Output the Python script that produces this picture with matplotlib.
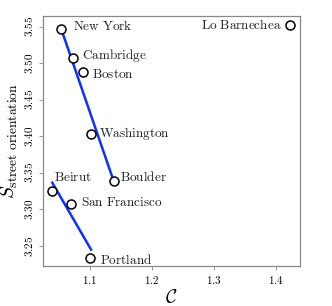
import matplotlib
matplotlib.use("Agg")
import matplotlib.pyplot as plt
from matplotlib.ticker import FuncFormatter, FixedLocator

plt.rcParams['mathtext.fontset'] = 'cm'
plt.rcParams['font.family'] = 'serif'
plt.rcParams['font.serif'] = ['DejaVu Serif']

cities = ["New York", "Cambridge", "Boston", "Washington", "Boulder",
          "Beirut", "San Francisco", "Portland", "Lo Barnechea"]
c_vals = [1.053, 1.072, 1.089, 1.101, 1.139, 1.039, 1.070, 1.1005, 1.423]
s_vals = [3.547, 3.5075, 3.488, 3.4035, 3.339, 3.325, 3.308, 3.234, 3.552]
# label offsets (points) and alignment
offsets = [(8.5, 2), (7, 2), (6, -2), (6, 0), (4, 3), (1.5, 9.5), (7, 1), (7, -1.5), (-6, 0)]
aligns = ["left"] * 8 + ["right"]

fit1_x = [1.0527, 1.139]
fit1_y = [3.5487, 3.3366]
fit2_x = [1.039, 1.1016]
fit2_y = [3.3366, 3.245]

xticks = [1.1, 1.2, 1.3, 1.4]
yticks = [3.25, 3.30, 3.35, 3.40, 3.45, 3.50, 3.55]

fig = plt.figure(figsize=(3.32, 3.06), dpi=100)
ax = fig.add_axes([0.1295, 0.1307, 0.9036 - 0.1295, 0.9477 - 0.1307])

ax.plot(fit1_x, fit1_y, color='#1030ff', lw=1.8, zorder=2)
ax.plot(fit2_x, fit2_y, color='#1030ff', lw=1.8, zorder=2)
ax.scatter(c_vals, s_vals, s=42, facecolors='white', edgecolors='black', linewidths=1.1, zorder=3)

for name, x, y, off, ha in zip(cities, c_vals, s_vals, offsets, aligns):
    ax.annotate(r'$\mathrm{' + name.replace(' ', r'\ ') + '}$', (x, y), xytext=off,
                textcoords='offset points', ha=ha, va='center', fontsize=9.5, color='#222222')

ax.set_xlim(1.024, 1.439)
ax.set_ylim(3.2226, 3.5647)
ax.xaxis.set_major_locator(FixedLocator(xticks))
ax.yaxis.set_major_locator(FixedLocator(yticks))
ax.xaxis.set_major_formatter(FuncFormatter(lambda v, p: r'$%.1f$' % v))
ax.yaxis.set_major_formatter(FuncFormatter(lambda v, p: r'$%.2f$' % v))
ax.tick_params(axis='both', labelsize=8, length=3, width=0.6, color='#888888', pad=3)
for lab in ax.get_yticklabels():
    lab.set_rotation(90)
    lab.set_va('center')
for sp in ax.spines.values():
    sp.set_color('#888888')
    sp.set_linewidth(0.9)

ax.set_xlabel(r'$\mathcal{C}$', fontsize=14, labelpad=2)
ax.set_ylabel(r'$S_{\rm street\ orientation}$', fontsize=14, labelpad=2)

fig.savefig('out.png', dpi=100)
